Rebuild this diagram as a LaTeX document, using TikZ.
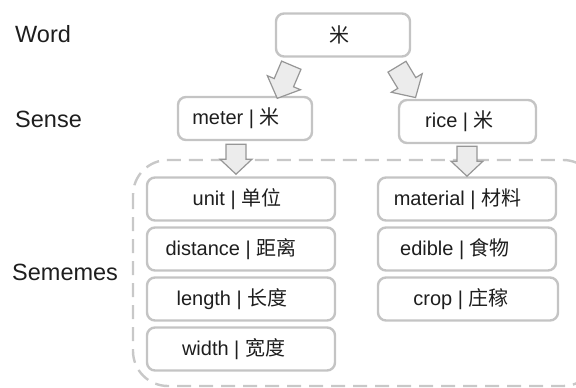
\documentclass[tikz,border=0pt]{standalone}
\usepackage{fontspec}
\setmainfont{Liberation Sans}
\newfontfamily\cjk{Noto Sans CJK SC}
\usetikzlibrary{calc}
\definecolor{boxgray}{RGB}{196,196,196}
\definecolor{dashgray}{RGB}{200,200,200}
\definecolor{arrfill}{RGB}{236,236,236}
\definecolor{arrline}{RGB}{150,150,150}
\definecolor{txt}{RGB}{30,30,30}
\newcommand{\boxfont}{\fontsize{20}{24}\selectfont}
\newcommand{\labfont}{\fontsize{23.5}{28}\selectfont}
\begin{document}
\begin{tikzpicture}[x=1pt,y=-1pt,
  box/.style={draw=boxgray, line width=2.4pt, rounded corners=8pt, fill=white,
    inner sep=0pt, text=txt, font=\boxfont, minimum height=43pt},
  lab/.style={inner sep=0pt, anchor=base west, text=txt, font=\labfont},
  region/.style={draw=dashgray, line width=2.4pt, rounded corners=35pt, dash pattern=on 14pt off 8pt},
  arrowshape/.style={draw=arrline, fill=arrfill, line width=1.2pt, line join=miter},
  blockarrow/.pic={\draw[arrowshape] (0,-10.5) -- (19,-10.5) -- (19,-18) -- (36,0) -- (19,18) -- (19,10.5) -- (0,10.5) -- cycle;},
  downarrow/.pic={\draw[arrowshape] (0,-10) -- (15,-10) -- (15,-16) -- (30,0) -- (15,16) -- (15,10) -- (0,10) -- cycle;}
]
\useasboundingbox (0,0) rectangle (576,388);
\clip (0,0) rectangle (576,388);

% row labels
\node[lab] (word) at (15,42) {Word};
\node[lab] (sense) at (15,127) {Sense};
\node[lab] (sememes) at (12,280) {Sememes};

% sememe region
\draw[region] (133,160) rectangle (598,386);

% word
\node[box, minimum width=134pt] (mi) at (343,35) {{\cjk 米}\hspace*{8pt}};

% senses
\node[box, minimum width=134pt] (meter) at (245,118.5) {meter | {\cjk 米}\hspace*{18pt}};
\node[box, minimum width=137pt] (rice) at (467.5,121.5) {rice | {\cjk 米}\hspace*{16pt}};

% sememes of meter
\node[box, minimum width=188pt] (unit) at (241,199) {unit | {\cjk 单位}\hspace*{8pt}};
\node[box, minimum width=188pt] (distance) at (241,249) {distance | {\cjk 距离}\hspace*{20pt}};
\node[box, minimum width=188pt] (length) at (241,299) {length | {\cjk 长度}\hspace*{18pt}};
\node[box, minimum width=188pt] (width) at (241,349) {width | {\cjk 宽度}\hspace*{15pt}};

% sememes of rice
\node[box, minimum width=178pt] (material) at (467,199) {material | {\cjk 材料}\hspace*{19pt}};
\node[box, minimum width=178pt] (edible) at (467,249) {edible | {\cjk 食物}\hspace*{24pt}};
\node[box, minimum width=180pt] (crop) at (468,299) {crop | {\cjk 庄稼}\hspace*{14pt}};

% block arrows
\pic[rotate=-113] at ($(mi.south west)+(16.5,7.5)$) {blockarrow};
\pic[rotate=-59] at ($(mi.south)+(54,9)$) {blockarrow};
\pic[rotate=-90] at ($(meter.south)+(-9,3)$) {downarrow};
\pic[rotate=-90] at ($(rice.south)+(-0.5,2)$) {downarrow};
\end{tikzpicture}
\end{document}
